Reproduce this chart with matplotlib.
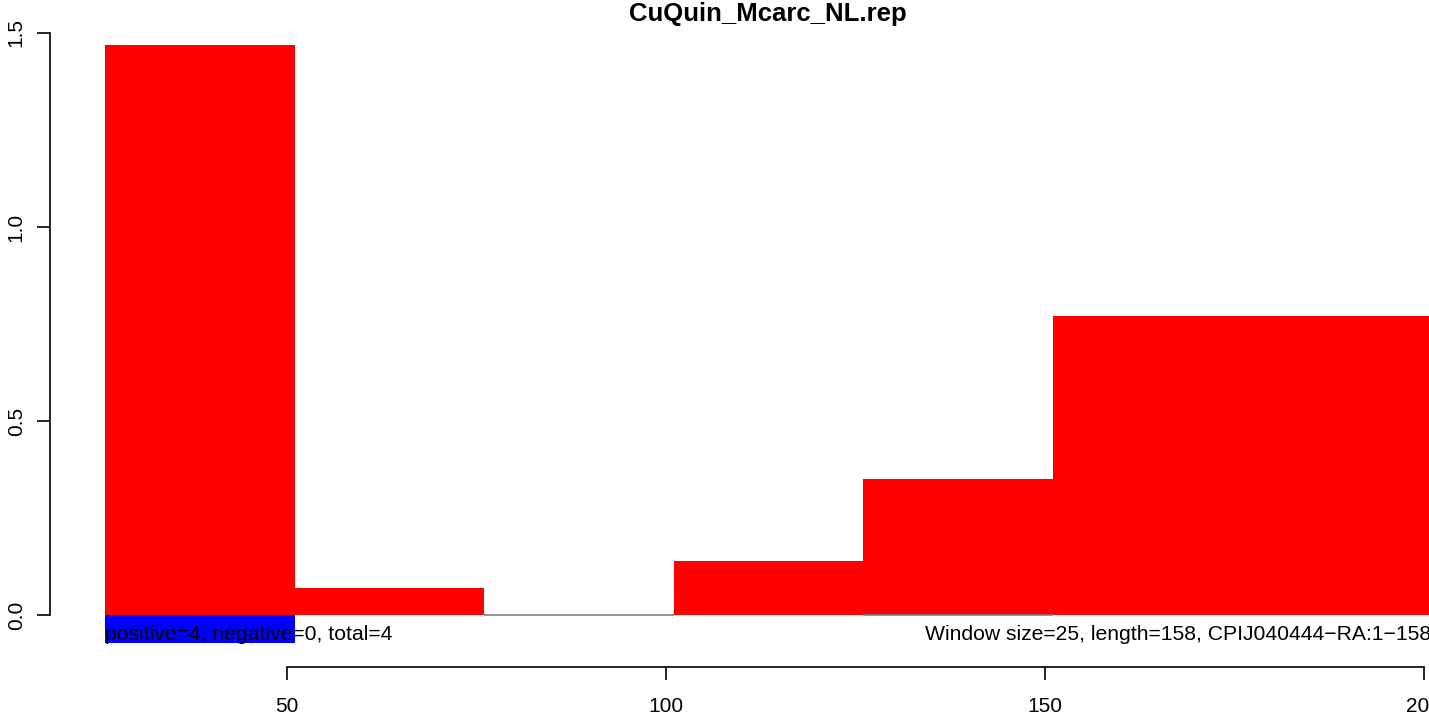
import matplotlib
matplotlib.use("Agg")
import matplotlib.pyplot as plt

plt.rcParams['font.family'] = ['Liberation Sans', 'DejaVu Sans']

# window data
starts = [26, 51, 76, 101, 126, 151, 176]
pos_vals = [1.47, 0.07, 0.0, 0.14, 0.35, 0.77, 0.77]
neg_starts = [26]
neg_vals = [-0.072]
zero_starts = [76, 126]   # windows with a flat grey bar at 0
width = 25

title = "CuQuin_Mcarc_NL.rep"
left_note = "positive=4, negative=0, total=4"
right_note = "Window size=25, length=158, CPIJ040444\u2212RA:1\u2212158"
xticks = [50, 100, 150, 200]
yticks = [0.0, 0.5, 1.0, 1.5]
ytick_labels = ["0.0", "0.5", "1.0", "1.5"]

fig = plt.figure(figsize=(14.29, 7.14), dpi=100)
ax = fig.add_axes([0, 0, 1, 1])
ax.set_xlim(12.14, 200.66)
ax.set_ylim(-0.255, 1.585)

ax.bar(starts, pos_vals, width=width, align='edge', color='#ff0000', linewidth=0)
ax.bar(neg_starts, neg_vals, width=width, align='edge', color='#0000ff', linewidth=0)
for s in zero_starts:
    ax.plot([s, s + width], [0, 0], color='#808080', lw=1.2, solid_capstyle='butt')

ax.text(26, -0.05, left_note, ha='left', va='center', fontsize=15.2)
ax.text(201, -0.05, right_note, ha='right', va='center', fontsize=15.2)

for sp in ['top', 'right']:
    ax.spines[sp].set_visible(False)
ax.spines['left'].set_position(('data', 18.73))
ax.spines['left'].set_bounds(0, 1.5)
ax.spines['bottom'].set_position(('data', -0.134))
ax.spines['bottom'].set_bounds(50, 200)
ax.spines['left'].set_linewidth(1.2)
ax.spines['bottom'].set_linewidth(1.2)

ax.set_xticks(xticks)
ax.set_xticklabels([str(v) for v in xticks], fontsize=15)
ax.set_yticks(yticks)
ax.set_yticklabels(ytick_labels, fontsize=15, rotation=90, va='center')
ax.tick_params(axis='both', direction='out', length=9.5, width=1.2)
ax.tick_params(axis='x', pad=12)
ax.tick_params(axis='y', pad=8)

fig.text(0.537, 0.981, title, ha='center', va='center', fontsize=18.5, fontweight='bold')

fig.savefig("out.png", dpi=100)
